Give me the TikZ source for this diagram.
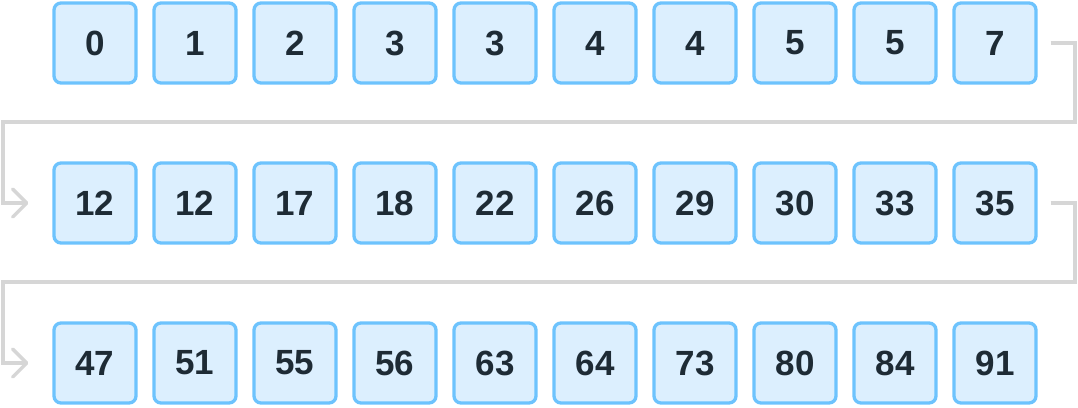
\documentclass[tikz,border=0pt]{standalone}
\usepackage{fontspec}
\setmainfont{Liberation Sans}
\usetikzlibrary{arrows.meta}
\definecolor{cellfill}{RGB}{220,239,254}
\definecolor{cellborder}{RGB}{109,195,253}
\definecolor{celltext}{RGB}{30,43,53}
\definecolor{conncol}{RGB}{214,214,214}
\tikzset{
  cell/.style={draw=cellborder, fill=cellfill, line width=3.3pt, rounded corners=7pt,
    minimum width=82pt, minimum height=80pt, inner sep=0pt, text=celltext,
    font=\fontsize{35}{40}\selectfont\bfseries},
  conn/.style={draw=conncol, line width=3.4pt, -{Straight Barb[length=14pt,width=28pt,round]}}
}
\begin{document}
\begin{tikzpicture}[x=1pt,y=-1pt]
\useasboundingbox (0,0) rectangle (1078,407);
\foreach \v [count=\i from 0] in {0,1,2,3,3,4,4,5,5,7}
  \node[cell] (a\i) at (95+100*\i,43) {\v};
\foreach \v [count=\i from 0] in {12,12,17,18,22,26,29,30,33,35}
  \node[cell] (b\i) at (95+100*\i,203) {\v};
\foreach \v [count=\i from 0] in {47,51,55,56,63,64,73,80,84,91}
  \node[cell] (c\i) at (95+100*\i,363) {\v};
\draw[conn] ([xshift=13pt]a9.east) -- (1075,43) -- (1075,122) -- (3,122) -- (3,203) -- ([xshift=-24pt]b0.west);
\draw[conn] ([xshift=13pt]b9.east) -- (1075,203) -- (1075,282) -- (3,282) -- (3,363) -- ([xshift=-24pt]c0.west);
\end{tikzpicture}
\end{document}
